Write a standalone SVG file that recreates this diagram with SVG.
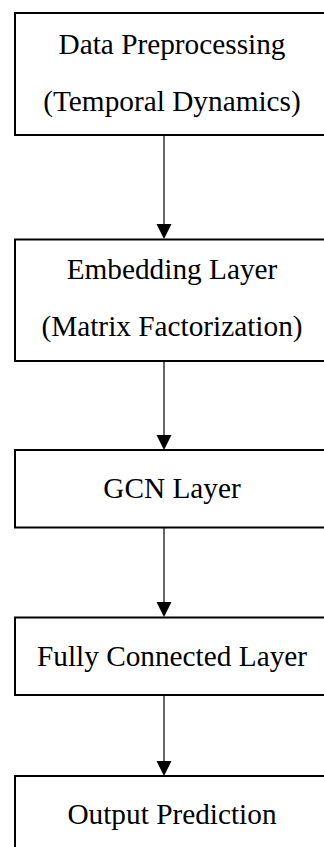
<svg xmlns="http://www.w3.org/2000/svg" width="324" height="847" viewBox="0 0 324 847">
<style>
.box{fill:#fff;stroke:#000;stroke-width:2}
.c{stroke:#000;stroke-width:1.2;fill:none}
.ah{fill:#000}
</style>
<rect width="324" height="847" fill="#fff"/>
<g id="connectors">
<line class="c" x1="164" y1="135" x2="164" y2="225"/>
<path class="ah" d="M156.5,224 L171.5,224 L164,239 Z"/>
<line class="c" x1="164" y1="361" x2="164" y2="436"/>
<path class="ah" d="M156.5,435 L171.5,435 L164,450 Z"/>
<line class="c" x1="164" y1="528" x2="164" y2="603"/>
<path class="ah" d="M156.5,602 L171.5,602 L164,617 Z"/>
<line class="c" x1="164" y1="695" x2="164" y2="762"/>
<path class="ah" d="M156.5,761 L171.5,761 L164,776 Z"/>
</g>
<g id="n1">
<rect class="box" x="15" y="13" width="316" height="122"/>
<text x="172" y="53.5" font-family="Liberation Serif, serif" font-size="29.3" text-anchor="middle" fill="#000">Data Preprocessing</text>
<text x="172" y="110.5" font-family="Liberation Serif, serif" font-size="29.3" text-anchor="middle" fill="#000">(Temporal Dynamics)</text>
</g>
<g id="n2">
<rect class="box" x="15" y="239.5" width="316" height="121.5"/>
<text x="172" y="278.5" font-family="Liberation Serif, serif" font-size="29.3" text-anchor="middle" fill="#000">Embedding Layer</text>
<text x="172" y="336" font-family="Liberation Serif, serif" font-size="29.3" text-anchor="middle" fill="#000">(Matrix Factorization)</text>
</g>
<g id="n3">
<rect class="box" x="15" y="450" width="316" height="77.5"/>
<text x="172" y="497.5" font-family="Liberation Serif, serif" font-size="29.3" text-anchor="middle" fill="#000">GCN Layer</text>
</g>
<g id="n4">
<rect class="box" x="15" y="617.5" width="316" height="77.5"/>
<text x="172" y="666" font-family="Liberation Serif, serif" font-size="29.3" text-anchor="middle" fill="#000">Fully Connected Layer</text>
</g>
<g id="n5">
<rect class="box" x="15" y="776" width="316" height="80"/>
<text x="172" y="823.5" font-family="Liberation Serif, serif" font-size="29.3" text-anchor="middle" fill="#000">Output Prediction</text>
</g>
</svg>
